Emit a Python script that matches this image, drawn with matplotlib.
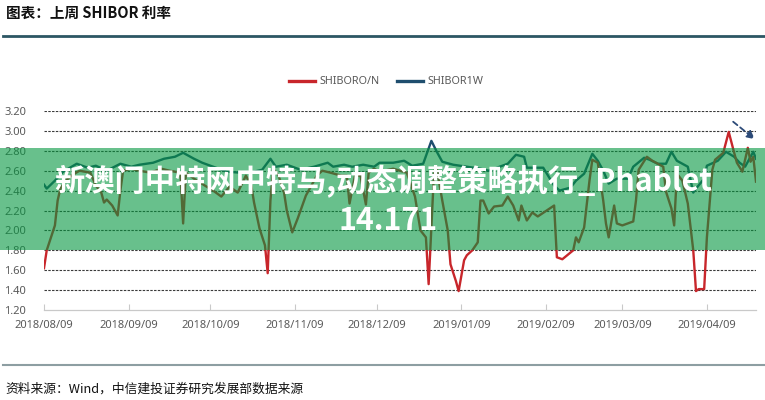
import matplotlib
matplotlib.use("Agg")
import matplotlib.pyplot as plt
import matplotlib.dates as mdates
from matplotlib.patches import Rectangle, FancyArrowPatch
from matplotlib.lines import Line2D
import pandas as pd

# ---------------- data ----------------
on_dates = ["2018-08-09", "2018-08-10", "2018-08-13", "2018-08-14", "2018-08-15", "2018-08-17",
            "2018-08-19", "2018-08-22", "2018-08-26", "2018-08-28", "2018-08-30", "2018-08-31",
            "2018-09-01", "2018-09-03", "2018-09-05", "2018-09-06", "2018-09-07", "2018-09-10",
            "2018-09-13", "2018-09-17", "2018-09-21", "2018-09-24", "2018-09-28", "2018-09-29",
            "2018-09-30", "2018-10-03", "2018-10-07", "2018-10-10", "2018-10-13", "2018-10-16",
            "2018-10-19", "2018-10-22", "2018-10-24", "2018-10-25", "2018-10-27", "2018-10-29",
            "2018-10-30", "2018-10-31", "2018-11-01", "2018-11-03", "2018-11-05", "2018-11-06",
            "2018-11-08", "2018-11-10", "2018-11-13", "2018-11-15", "2018-11-17", "2018-11-19",
            "2018-11-22", "2018-11-26", "2018-11-28", "2018-11-29", "2018-12-01", "2018-12-03",
            "2018-12-05", "2018-12-06", "2018-12-08", "2018-12-10", "2018-12-15", "2018-12-20",
            "2018-12-23", "2018-12-25", "2018-12-27", "2018-12-28", "2018-12-30", "2018-12-31",
            "2019-01-02", "2019-01-04", "2019-01-05", "2019-01-07", "2019-01-08", "2019-01-10",
            "2019-01-11", "2019-01-13", "2019-01-15", "2019-01-16", "2019-01-17", "2019-01-19",
            "2019-01-21", "2019-01-24", "2019-01-26", "2019-01-28", "2019-01-30", "2019-01-31",
            "2019-02-02", "2019-02-04", "2019-02-06", "2019-02-12", "2019-02-13", "2019-02-15",
            "2019-02-19", "2019-02-20", "2019-02-21", "2019-02-23", "2019-02-25", "2019-02-26",
            "2019-02-28", "2019-03-02", "2019-03-03", "2019-03-04", "2019-03-06", "2019-03-07",
            "2019-03-09", "2019-03-13", "2019-03-14", "2019-03-15", "2019-03-18", "2019-03-20",
            "2019-03-24", "2019-03-25", "2019-03-27", "2019-03-28", "2019-03-29", "2019-03-31",
            "2019-04-02", "2019-04-04", "2019-04-05", "2019-04-06", "2019-04-08", "2019-04-09",
            "2019-04-11", "2019-04-12", "2019-04-15", "2019-04-17", "2019-04-19", "2019-04-20",
            "2019-04-22", "2019-04-24", "2019-04-25", "2019-04-26", "2019-04-27"]
on_values = [1.62, 1.80, 2.05, 2.30, 2.42, 2.50,
             2.55, 2.60, 2.58, 2.45, 2.38, 2.28,
             2.31, 2.25, 2.15, 2.40, 2.60, 2.62,
             2.60, 2.58, 2.62, 2.60, 2.58, 2.07,
             2.58, 2.52, 2.45, 2.40, 2.34, 2.44,
             2.38, 2.55, 2.45, 2.28, 2.02, 1.85,
             1.57, 2.30, 2.62, 2.55, 2.38, 2.20,
             1.98, 2.12, 2.35, 2.45, 2.55, 2.60,
             2.58, 2.55, 2.55, 2.27, 2.55, 2.55,
             2.26, 2.58, 2.62, 2.59, 2.62, 2.58,
             2.34, 2.00, 1.93, 1.46, 2.60, 2.62,
             2.30, 2.00, 1.66, 1.49, 1.39, 1.70,
             1.75, 1.80, 1.88, 2.30, 2.30, 2.17,
             2.24, 2.25, 2.34, 2.25, 2.10, 2.25,
             2.10, 2.18, 2.14, 2.25, 1.73, 1.71,
             1.80, 1.93, 1.88, 2.03, 2.51, 2.71,
             2.68, 2.30, 2.07, 1.93, 2.25, 2.07,
             2.05, 2.09, 2.30, 2.61, 2.74, 2.70,
             2.64, 2.39, 2.22, 2.05, 2.57, 2.50,
             2.27, 1.80, 1.39, 1.41, 1.41, 1.93,
             2.61, 2.71, 2.78, 2.99, 2.78, 2.68,
             2.59, 2.83, 2.69, 2.74, 2.49]

w1_dates = ["2018-08-09", "2018-08-10", "2018-08-13", "2018-08-16", "2018-08-21", "2018-08-25",
            "2018-08-28", "2018-09-01", "2018-09-06", "2018-09-10", "2018-09-13", "2018-09-18",
            "2018-09-22", "2018-09-26", "2018-09-29", "2018-10-03", "2018-10-06", "2018-10-10",
            "2018-10-15", "2018-10-20", "2018-10-25", "2018-10-28", "2018-10-31", "2018-11-02",
            "2018-11-06", "2018-11-11", "2018-11-16", "2018-11-21", "2018-11-23", "2018-11-27",
            "2018-11-30", "2018-12-04", "2018-12-08", "2018-12-10", "2018-12-15", "2018-12-19",
            "2018-12-22", "2018-12-26", "2018-12-29", "2018-12-31", "2019-01-02", "2019-01-06",
            "2019-01-11", "2019-01-16", "2019-01-19", "2019-01-26", "2019-01-29", "2019-02-01",
            "2019-02-02", "2019-02-08", "2019-02-12", "2019-02-14", "2019-02-18", "2019-02-20",
            "2019-02-23", "2019-02-26", "2019-02-28", "2019-03-02", "2019-03-04", "2019-03-07",
            "2019-03-11", "2019-03-13", "2019-03-17", "2019-03-19", "2019-03-22", "2019-03-25",
            "2019-03-27", "2019-03-29", "2019-04-02", "2019-04-04", "2019-04-05", "2019-04-08",
            "2019-04-09", "2019-04-13", "2019-04-16", "2019-04-19", "2019-04-21", "2019-04-23",
            "2019-04-26", "2019-04-27"]
w1_values = [2.46, 2.42, 2.50, 2.59, 2.67, 2.63,
             2.65, 2.60, 2.67, 2.64, 2.66, 2.68,
             2.72, 2.74, 2.78, 2.72, 2.68, 2.64,
             2.59, 2.58, 2.59, 2.61, 2.72, 2.64,
             2.66, 2.61, 2.64, 2.68, 2.64, 2.66,
             2.64, 2.66, 2.64, 2.68, 2.68, 2.70,
             2.65, 2.67, 2.90, 2.79, 2.69, 2.66,
             2.64, 2.62, 2.60, 2.67, 2.76, 2.74,
             2.63, 2.63, 2.45, 2.40, 2.43, 2.50,
             2.57, 2.77, 2.70, 2.60, 2.47, 2.52,
             2.52, 2.64, 2.73, 2.71, 2.67, 2.67,
             2.79, 2.70, 2.64, 2.38, 2.42, 2.52,
             2.65, 2.70, 2.79, 2.74, 2.68, 2.64,
             2.79, 2.72]

series_labels = ["SHIBORO/N", "SHIBOR1W"]
tick_dates = ["2018-08-09", "2018-09-09", "2018-10-09", "2018-11-09", "2018-12-09",
              "2019-01-09", "2019-02-09", "2019-03-09", "2019-04-09"]
y_ticks = [1.20, 1.40, 1.60, 1.80, 2.00, 2.20, 2.40, 2.60, 2.80, 3.00, 3.20]

title_text = "图表：上周 SHIBOR 利率"
source_text = "资料来源：Wind，中信建投证券研究发展部数据来源"
banner_line1 = "新澳门中特网中特马,动态调整策略执行_Phablet"
banner_line2 = "14.171"

# ---------------- figure ----------------
W, H = 765, 400
fig = plt.figure(figsize=(W / 100, H / 100), dpi=100)
fig.patch.set_facecolor("white")

cjk = ["Noto Sans CJK SC", "DejaVu Sans"]

ax = fig.add_axes([44 / W, 1 - 310 / H, (756 - 44) / W, (310 - 111) / H])
ax.set_facecolor("white")

red = "#c8262b"
blue = "#1f4e6e"
ax.plot(pd.to_datetime(on_dates), on_values, color=red, lw=1.7, label=series_labels[0], zorder=3)
ax.plot(pd.to_datetime(w1_dates), w1_values, color=blue, lw=1.7, label=series_labels[1], zorder=2)

ax.set_ylim(1.2, 3.2)
ax.set_xlim(pd.Timestamp("2018-08-09"), pd.Timestamp("2019-04-27"))
ax.set_yticks(y_ticks)
ax.set_yticklabels([f"{v:.2f}" for v in y_ticks])
ax.set_xticks(pd.to_datetime(tick_dates))
ax.xaxis.set_major_formatter(mdates.DateFormatter("%Y/%m/%d"))

for v in y_ticks[1:]:
    ax.axhline(v, color="#3a3a3a", lw=0.8, ls=(0, (2.2, 1.2)), zorder=1)

for s in ["top", "right", "left"]:
    ax.spines[s].set_visible(False)
ax.spines["bottom"].set_color("#c9c9c9")
ax.spines["bottom"].set_linewidth(0.9)
ax.tick_params(axis="y", length=0, labelsize=8, labelcolor="#595959", pad=13)
ax.tick_params(axis="x", direction="in", length=4, color="#c9c9c9", labelsize=8,
               labelcolor="#595959", pad=7)
for lab in ax.get_xticklabels() + ax.get_yticklabels():
    lab.set_fontfamily("Noto Sans")

leg = ax.legend(loc="center", bbox_to_anchor=(386 / W, 1 - 82 / H), bbox_transform=fig.transFigure,
                ncol=2, frameon=False, fontsize=7.8, handlelength=2.4, columnspacing=1.6,
                handletextpad=0.4, labelcolor="#595959")
for t in leg.get_texts():
    t.set_fontfamily("Noto Sans")
for l in leg.get_lines():
    l.set_linewidth(2.4)

# arrow annotation at top right
fig.add_artist(FancyArrowPatch(
    (731 / W, 1 - 120 / H), (757 / W, 1 - 141 / H), transform=fig.transFigure,
    arrowstyle="-|>", mutation_scale=12, color="#2c4a78", lw=1.3, linestyle=(0, (3, 2)), zorder=5))

# header / footer decorations
fig.text(6 / W, 1 - 13 / H, title_text, fontsize=10.5, fontweight="bold", family=cjk,
         va="center", ha="left", color="#111111")
fig.add_artist(Line2D([3 / W, 1], [1 - 36 / H, 1 - 36 / H], transform=fig.transFigure,
                      color="#2c5663", lw=2.0))
fig.add_artist(Line2D([3 / W, 1], [1 - 365 / H, 1 - 365 / H], transform=fig.transFigure,
                      color="#8d9ea2", lw=1.5))
fig.text(5 / W, 1 - 389 / H, source_text, fontsize=9.2, family=cjk, style="italic",
         va="center", ha="left", color="#111111")

# green banner overlay
band = Rectangle((0, 1 - 250 / H), 1, (250 - 148) / H, transform=fig.transFigure,
                 facecolor=(3 / 255, 150 / 255, 63 / 255), alpha=0.6, edgecolor="none", zorder=10)
fig.add_artist(band)
fig.text(383 / W, 1 - 182 / H, banner_line1, fontsize=21.8, fontweight="bold", family=cjk,
         color="white", ha="center", va="center", zorder=11)
fig.text(388 / W, 1 - 221 / H, banner_line2, fontsize=21.8, fontweight="bold", family=cjk,
         color="white", ha="center", va="center", zorder=11)

fig.savefig("out.png", dpi=100)
